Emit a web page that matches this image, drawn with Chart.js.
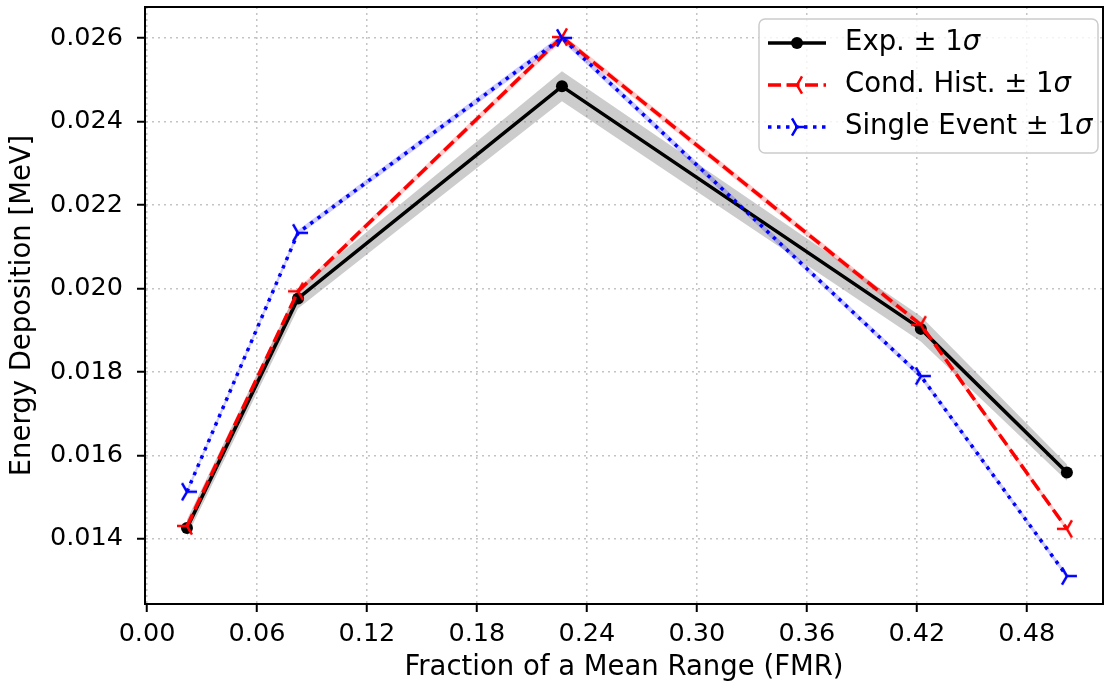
<!DOCTYPE html>
<html>
<head>
<meta charset="utf-8">
<script src="https://cdn.jsdelivr.net/npm/chart.js@4.4.1/dist/chart.umd.min.js"></script>
<style>
  html, body { margin: 0; padding: 0; background: #fff; }
  #wrap { width: 1105px; height: 690px; }
</style>
</head>
<body>
<div id="wrap"><canvas id="myChart" width="1105" height="690"></canvas></div>
<script>
// values
var fmr = [0.0218, 0.0824, 0.2264, 0.4222, 0.5019];
var expVals = [0.01426, 0.01976, 0.02484, 0.01903, 0.01559];
var expErr = [0.00020, 0.00024, 0.00036, 0.00030, 0.00020];
var condVals = [0.01431, 0.01993, 0.02602, 0.01913, 0.01424];
var condErr = [0.00006, 0.00007, 0.00008, 0.00007, 0.00006];
var singleVals = [0.01513, 0.02133, 0.02600, 0.01790, 0.01311];
var singleErr = [0.00006, 0.00007, 0.00008, 0.00007, 0.00006];
var xTicks = [0.00, 0.06, 0.12, 0.18, 0.24, 0.30, 0.36, 0.42, 0.48];
var yTicks = [0.014, 0.016, 0.018, 0.020, 0.022, 0.024, 0.026];
var legendLabels = ["Exp. \u00b1 1", "Cond. Hist. \u00b1 1", "Single Event \u00b1 1"];

var FONT = '"DejaVu Sans", sans-serif';
var TICK_SIZE = 25.5;
var LABEL_SIZE = 27.5;

function triMarker(color, dir) {
  var c = document.createElement('canvas');
  c.width = 24; c.height = 24;
  var g = c.getContext('2d');
  g.strokeStyle = color;
  g.lineWidth = 2.5;
  var r = 10;
  var angles = dir === 'left' ? [180, 60, -60] : [0, 120, 240];
  g.beginPath();
  angles.forEach(function(a) {
    var rad = a * Math.PI / 180;
    g.moveTo(12, 12);
    g.lineTo(12 + r * Math.cos(rad), 12 - r * Math.sin(rad));
  });
  g.stroke();
  return c;
}
var redTri = triMarker('#ff0000', 'left');
var blueTri = triMarker('#0000ff', 'right');

function pts(vals, err, sign) {
  return fmr.map(function(x, i) {
    return { x: x, y: vals[i] + (err ? sign * err[i] : 0) };
  });
}

function band(vals, err, color, order) {
  return [
    { data: pts(vals, err, 1), borderWidth: 0, pointRadius: 0, fill: '+1', backgroundColor: color, order: order },
    { data: pts(vals, err, -1), borderWidth: 0, pointRadius: 0, fill: false, order: order }
  ];
}

var datasets = [
  { label: 'Exp.', data: pts(expVals), borderColor: '#000', backgroundColor: '#000', borderWidth: 3.5,
    pointStyle: 'circle', pointRadius: 6, pointBackgroundColor: '#000', pointBorderWidth: 0, fill: false, order: 2 },
  { label: 'Cond. Hist.', data: pts(condVals), borderColor: '#ff0000', borderWidth: 3.5, borderDash: [13, 5.5],
    pointStyle: redTri, pointRadius: 6, fill: false, order: 1 },
  { label: 'Single Event', data: pts(singleVals), borderColor: '#0000ff', borderWidth: 3.5, borderDash: [3.5, 5.5],
    pointStyle: blueTri, pointRadius: 6, fill: false, order: 0 }
].concat(band(expVals, expErr, 'rgba(128,128,128,0.4)', 5))
 .concat(band(condVals, condErr, 'rgba(255,0,0,0.2)', 4))
 .concat(band(singleVals, singleErr, 'rgba(0,0,255,0.2)', 3));

var framePlugin = {
  id: 'frame',
  afterDraw: function(chart) {
    var ctx = chart.ctx, a = chart.chartArea;
    ctx.save();
    ctx.strokeStyle = '#000';
    ctx.lineWidth = 2;
    ctx.strokeRect(a.left, a.top, a.right - a.left, a.bottom - a.top);

    // legend box
    var bx = 759, by = 19, bw = 339, bh = 134, r = 6;
    ctx.beginPath();
    ctx.moveTo(bx + r, by);
    ctx.arcTo(bx + bw, by, bx + bw, by + bh, r);
    ctx.arcTo(bx + bw, by + bh, bx, by + bh, r);
    ctx.arcTo(bx, by + bh, bx, by, r);
    ctx.arcTo(bx, by, bx + bw, by, r);
    ctx.closePath();
    ctx.fillStyle = 'rgba(255,255,255,0.8)';
    ctx.fill();
    ctx.strokeStyle = '#cccccc';
    ctx.lineWidth = 1.5;
    ctx.stroke();

    var rows = [43, 85, 127];
    var colors = ['#000', '#ff0000', '#0000ff'];
    var dashes = [[], [13, 5.5], [3.5, 5.5]];
    for (var i = 0; i < 3; i++) {
      var y = rows[i];
      ctx.beginPath();
      ctx.setLineDash(dashes[i]);
      ctx.strokeStyle = colors[i];
      ctx.lineWidth = 3.5;
      ctx.moveTo(768, y);
      ctx.lineTo(826, y);
      ctx.stroke();
      ctx.setLineDash([]);
      if (i === 0) {
        ctx.beginPath();
        ctx.fillStyle = '#000';
        ctx.arc(797, y, 6, 0, Math.PI * 2);
        ctx.fill();
      } else {
        var m = i === 1 ? redTri : blueTri;
        ctx.drawImage(m, 797 - m.width / 2, y - m.height / 2);
      }
      ctx.fillStyle = '#000';
      ctx.textBaseline = 'middle';
      ctx.textAlign = 'left';
      ctx.font = LABEL_SIZE + 'px ' + FONT;
      ctx.fillText(legendLabels[i], 845, y);
      var w = ctx.measureText(legendLabels[i]).width;
      ctx.font = 'italic ' + LABEL_SIZE + 'px ' + FONT;
      ctx.fillText('\u03c3', 845 + w, y);
    }
    ctx.restore();
  }
};

var ctx = document.getElementById('myChart').getContext('2d');
var chart = new Chart(ctx, {
  type: 'line',
  data: { datasets: datasets },
  plugins: [framePlugin],
  options: {
    responsive: false,
    animation: false,
    layout: { autoPadding: false, padding: { top: 7, right: 2, left: 0, bottom: 0 } },
    plugins: { legend: { display: false }, tooltip: { enabled: false } },
    elements: { line: { tension: 0, borderCapStyle: 'butt' } },
    scales: {
      x: {
        type: 'linear',
        min: -0.0011,
        max: 0.5216,
        afterFit: function(s) { s.height = 86; s.paddingLeft = 0; s.paddingRight = 0; },
        afterBuildTicks: function(s) { s.ticks = xTicks.map(function(v) { return { value: v }; }); },
        ticks: {
          autoSkip: false, maxRotation: 0, padding: 7,
          color: '#000', font: { family: FONT, size: TICK_SIZE },
          callback: function(v) { return v.toFixed(2); }
        },
        grid: { color: 'rgba(176,176,176,0.75)', lineWidth: 1.5, tickLength: 8, tickColor: '#000', tickWidth: 2 },
        border: { color: '#000', width: 2, dash: [2, 4] },
        title: { display: true, text: 'Fraction of a Mean Range (FMR)', color: '#000',
                 font: { family: FONT, size: LABEL_SIZE }, padding: { top: 0, bottom: 6 } }
      },
      y: {
        min: 0.01244,
        max: 0.02674,
        afterFit: function(s) { s.width = 145; s.paddingTop = 0; s.paddingBottom = 0; },
        afterBuildTicks: function(s) { s.ticks = yTicks.map(function(v) { return { value: v }; }); },
        ticks: {
          autoSkip: false, padding: 14,
          color: '#000', font: { family: FONT, size: TICK_SIZE },
          callback: function(v) { return v.toFixed(3); }
        },
        grid: { color: 'rgba(176,176,176,0.75)', lineWidth: 1.5, tickLength: 8, tickColor: '#000', tickWidth: 2 },
        border: { color: '#000', width: 2, dash: [2, 4] },
        title: { display: true, text: 'Energy Deposition [MeV]', color: '#000',
                 font: { family: FONT, size: LABEL_SIZE }, padding: { top: 6, bottom: 0 } }
      }
    }
  }
});
</script>
</body>
</html>
